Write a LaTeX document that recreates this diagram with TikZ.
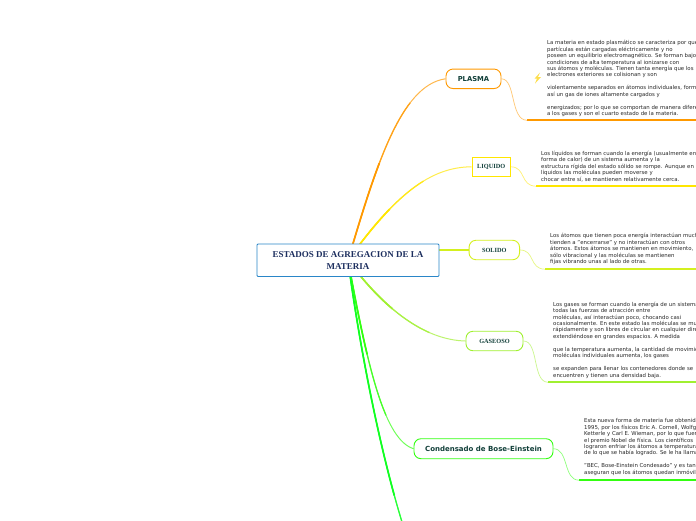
\documentclass[tikz,border=0pt]{standalone}
\usepackage{fontspec}
\setmainfont{DejaVu Sans}
\newfontfamily\titleserif{Liberation Serif}
\usetikzlibrary{calc}
\pgfdeclarelayer{bg}
\pgfsetlayers{bg,main}
\definecolor{cplasma}{HTML}{FF9900}
\definecolor{cliq}{HTML}{FFE600}
\definecolor{csol}{HTML}{D4F01E}
\definecolor{cgas}{HTML}{A0F030}
\definecolor{cbec}{HTML}{33FF11}
\definecolor{cdown}{HTML}{11FF22}
\definecolor{navy}{HTML}{1D2F5F}
\definecolor{dgreen}{HTML}{12403A}
\definecolor{body}{HTML}{2A2A2A}
\definecolor{croot}{HTML}{2A86C8}
\tikzset{
 x=1pt,y=-1pt,
 rootbox/.style={draw=croot,line width=.9,fill=white,rounded corners=1pt,minimum width=182,minimum height=32.5,align=center,inner sep=0,font=\titleserif\bfseries\fontsize{9}{12.2}\selectfont,text=navy},
 pill/.style={draw=#1,line width=.9,fill=white,rounded corners=7pt,inner sep=0,text=dgreen},
 sqbox/.style={draw=#1,line width=.9,fill=white,inner sep=0,text=dgreen},
 serifname/.style={font=\titleserif\bfseries\fontsize{6.3}{7}\selectfont},
 sansname/.style={font=\bfseries\fontsize{#1}{8}\selectfont},
 note/.style={anchor=north west,inner sep=0,align=left,text=body,font=\fontsize{5.4}{6.45}\selectfont},
 taper/.style 2 args={line width=1,draw=#1!70!white,
   postaction={draw=#1!90!white,line width=1.25,dash pattern=on #2pt off 3000pt},
   postaction={draw=#1,line width=1.7,dash pattern=on 0.6*#2pt off 3000pt}},
 twig/.style={draw=#1!55!white,line width=.7},
 rule/.style={draw=#1,line width=1.7},
}
\begin{document}
\begin{tikzpicture}
\useasboundingbox (0,0) rectangle (696,520);
\clip (0,0) rectangle (696,520);
\begin{pgfonlayer}{bg}
\fill[white] (0,0) rectangle (696,520);
\end{pgfonlayer}
% nodes
\node[rootbox] (root) at (348,260.2) {ESTADOS DE AGREGACION DE LA\\MATERIA};
\node[pill=cplasma,sansname=6.8,minimum width=55,minimum height=19.5] (plasma) at (473.5,78.8) {PLASMA};
\node[sqbox=cliq,serifname,minimum width=38.5,minimum height=19.5] (liq) at (491.2,166.8) {LIQUIDO};
\node[pill=csol,serifname,minimum width=50.5,minimum height=19.5] (sol) at (494.3,250) {SOLIDO};
\node[pill=cgas,serifname,minimum width=57,minimum height=19.5] (gas) at (494.5,341) {GASEOSO};
\node[pill=cbec,sansname=7,minimum width=139,minimum height=20] (bec) at (483.5,448.7) {Condensado de Bose-Einstein};
% texts
\node[note] (tplasma) at (547,40.2) {La materia en estado plasmático se caracteriza por que\\partículas están cargadas eléctricamente y no\\poseen un equilibrio electromagnético. Se forman bajo\\condiciones de alta temperatura al ionizarse con\\sus átomos y moléculas. Tienen tanta energía que los\\electrones exteriores se colisionan y son\\[6.45pt]violentamente separados en átomos individuales, formando\\así un gas de iones altamente cargados y\\[6.45pt]energizados; por lo que se comportan de manera diferente\\a los gases y son el cuarto estado de la materia.};
\node[note] (tliq) at (541,150.8) {Los líquidos se forman cuando la energía (usualmente en\\forma de calor) de un sistema aumenta y la\\estructura rígida del estado sólido se rompe. Aunque en\\líquidos las moléculas pueden moverse y\\chocar entre sí, se mantienen relativamente cerca.};
\node[note] (tsol) at (550,233.4) {Los átomos que tienen poca energía interactúan mucho\\tienden a "encerrarse" y no interactúan con otros\\átomos. Estos átomos se mantienen en movimiento,\\sólo vibracional y las moléculas se mantienen\\fijas vibrando unas al lado de otras.};
\node[note] (tgas) at (553,301.6) {Los gases se forman cuando la energía de un sistema\\todas las fuerzas de atracción entre\\moléculas, así interactúan poco, chocando casi\\ocasionalmente. En este estado las moléculas se mueven\\rápidamente y son libres de circular en cualquier dirección\\extendiéndose en grandes espacios. A medida\\[6.45pt]que la temperatura aumenta, la cantidad de movimiento\\moléculas individuales aumenta, los gases\\[6.45pt]se expanden para llenar los contenedores donde se\\encuentren y tienen una densidad baja.};
\node[note] (tbec) at (584,418.4) {Esta nueva forma de materia fue obtenida\\1995, por los físicos Eric A. Cornell, Wolfgang\\Ketterle y Carl E. Wieman, por lo que fueron\\el premio Nobel de física. Los científicos\\lograron enfriar los átomos a temperaturas\\de lo que se había logrado. Se le ha llamado\\[6.45pt]"BEC, Bose-Einstein Condesado" y es tan\\aseguran que los átomos quedan inmóviles};
% free ends
\coordinate (uP) at (527,120.3); \coordinate (uPe) at (696,120.3);
\coordinate (uL) at (536,186.2); \coordinate (uLe) at (696,186.2);
\coordinate (uS) at (545,269.2); \coordinate (uSe) at (696,269.2);
\coordinate (uG) at (548,382.3); \coordinate (uGe) at (696,382.3);
\coordinate (uB) at (579,480.2); \coordinate (uBe) at (696,480.2);
\coordinate (down) at (402,522);
% lightning
\fill[yellow!70!orange!70!white] (540,72.5) -- (534.5,78.6) -- (537,78.6) -- (535,83.6) -- (541,77) -- (538,77) -- cycle;
\begin{pgfonlayer}{bg}
\path[taper={cplasma}{170}] (root.center) .. controls (375,170) and (400,85) .. (plasma.west);
\path[taper={cliq}{110}] (root.center) .. controls (395,195) and (430,167) .. (liq.west);
\path[taper={csol}{50}] (root.east |- sol.west) -- (sol.west);
\path[taper={cgas}{110}] (root.center) .. controls (385,310) and (425,340) .. (gas.west);
\path[taper={cbec}{160}] (root.center) .. controls (368,370) and (385,440) .. (bec.west);
\path[taper={cdown}{400}] (root.center) .. controls (360,350) and (380,450) .. (down);
\path[twig=cplasma] (plasma.east) .. controls (516,79) and (510,120) .. (uP);
\path[twig=cliq] (liq.east) .. controls (526,167) and (520,186) .. (uL);
\path[twig=csol] (sol.east) .. controls (535,250) and (529,269) .. (uS);
\path[twig=cgas] (gas.east) .. controls (539,341) and (532,382) .. (uG);
\path[twig=cbec] (bec.east) .. controls (569,449) and (563,480) .. (uB);
\path[rule=cplasma] (uP) -- (uPe);
\path[rule=cliq] (uL) -- (uLe);
\path[rule=csol] (uS) -- (uSe);
\path[rule=cgas] (uG) -- (uGe);
\path[rule=cbec] (uB) -- (uBe);
\end{pgfonlayer}
\end{tikzpicture}
\end{document}
